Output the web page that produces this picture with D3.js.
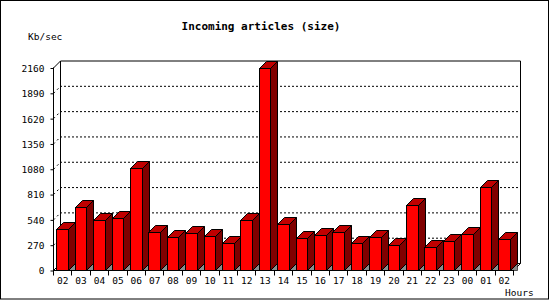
<!DOCTYPE html>
<html>
<head>
<meta charset="utf-8">
<script src="https://cdn.jsdelivr.net/npm/d3@7/dist/d3.min.js"></script>
<style>
  html, body { margin: 0; padding: 0; background: #fff; }
  svg { display: block; }
  text { font-family: "DejaVu Sans Mono", monospace; font-size: 9.5px; fill: #000; }
  .title { font-weight: bold; font-size: 11px; }
</style>
</head>
<body>
<svg id="chart" width="550" height="300"></svg>
<script>
const title = "Incoming articles (size)";
const yTitle = "Kb/sec";
const xTitle = "Hours";
const hours = ["02","03","04","05","06","07","08","09","10","11","12","13","14","15","16","17","18","19","20","21","22","23","00","01","02"];
const values = [435,670,534,552,1086,403,349,392,360,285,531,2155,488,338,371,403,285,349,264,691,242,306,381,883,328];
const yTicks = [0,270,540,810,1080,1350,1620,1890,2160];

const svg = d3.select("#chart");
const W = 550, H = 300;
const x0 = 53, x1 = 513, yBase = 270, yTop = 67.5;
const dx = 7, dy = 7;

svg.append("rect").attr("x",0.5).attr("y",0.5).attr("width",548).attr("height",298.5)
  .attr("fill","#fff").attr("stroke","#000");

const idx = hours.map((d,i)=>i);
const x = d3.scaleBand().domain(idx).range([x0,x1]).paddingInner(0).paddingOuter(0);
const y = d3.scaleLinear().domain([0,2160]).range([yBase,yTop]);

const g = svg.append("g");

// gridlines (back plane) and connecting diagonals
yTicks.forEach(v=>{
  const yy = y(v);
  if (v>0 && v<2160) {
    g.append("line").attr("x1",x0+dx).attr("x2",x1+dx).attr("y1",yy-dy+0.5).attr("y2",yy-dy+0.5)
      .attr("stroke","#000").attr("stroke-dasharray","2,2");
    g.append("line").attr("x1",x0+0.5).attr("y1",yy+0.5).attr("x2",x0+dx+0.5).attr("y2",yy-dy+0.5)
      .attr("stroke","#000").attr("stroke-dasharray","2,3");
  }
});
// frame
const fr = [
  [x0+dx, y(2160)-dy, x1+dx, y(2160)-dy],
  [x0+dx, y(2160)-dy, x0+dx, yBase-dy],
  [x1+dx, y(2160)-dy, x1+dx, yBase-dy],
  [x0+dx, yBase-dy, x1+dx, yBase-dy],
  [x0, y(2160), x0+dx, y(2160)-dy],
  [x1, yBase, x1+dx, yBase-dy],
  [x0, yBase, x0+dx, yBase-dy]
];
fr.forEach(l=>g.append("line").attr("x1",l[0]+0.5).attr("y1",l[1]+0.5).attr("x2",l[2]+0.5).attr("y2",l[3]+0.5).attr("stroke","#000"));

// bars
const bw = 11.5;
const bars = g.append("g");
values.forEach((v,i)=>{
  const cx = x(i) + x.bandwidth()/2;
  const xl = Math.round(cx - bw/2), xr = Math.round(cx + bw/2);
  const yt = Math.round(y(v)), yb = yBase;
  // floor shadow
  bars.append("path").attr("d",`M${xr+0.5},${yb+0.5}L${xr+dx+0.5},${yb-dy+0.5}L${xr+dx+0.5},${yb+0.5}Z`)
    .attr("fill","#8c8c8c").attr("stroke","#000").attr("stroke-width",0.6);
  // side
  bars.append("path").attr("d",`M${xr+0.5},${yt+0.5}L${xr+dx+0.5},${yt-dy+0.5}L${xr+dx+0.5},${yb-dy+0.5}L${xr+0.5},${yb+0.5}Z`)
    .attr("fill","#800000").attr("stroke","#000");
  // top
  bars.append("path").attr("d",`M${xl+0.5},${yt+0.5}L${xl+dx+0.5},${yt-dy+0.5}L${xr+dx+0.5},${yt-dy+0.5}L${xr+0.5},${yt+0.5}Z`)
    .attr("fill","#c00000").attr("stroke","#000");
  // front
  bars.append("rect").attr("x",xl+0.5).attr("y",yt+0.5).attr("width",xr-xl).attr("height",yb-yt)
    .attr("fill","#ff0000").attr("stroke","#000");
});

// front axes
g.append("line").attr("x1",x0+0.5).attr("x2",x0+0.5).attr("y1",y(2160)).attr("y2",yBase+5).attr("stroke","#000");
g.append("line").attr("x1",x0).attr("x2",x1+1).attr("y1",yBase+0.5).attr("y2",yBase+0.5).attr("stroke","#000");

// y axis ticks & labels
const yAxis = d3.axisLeft(y).tickValues(yTicks).tickSize(3).tickPadding(6).tickFormat(d3.format("d"));
const ya = svg.append("g").attr("transform",`translate(${x0+0.5},0.5)`).call(yAxis);
ya.select(".domain").remove();
ya.selectAll("text").attr("font-family","DejaVu Sans Mono").attr("font-size","9.5px").attr("dy","0.36em");

// x axis ticks & labels
const xa = svg.append("g").attr("transform",`translate(0,${yBase+0.5})`);
d3.range(hours.length+1).forEach(i=>{
  const xx = Math.round(x0 + i*x.bandwidth())+0.5;
  xa.append("line").attr("x1",xx).attr("x2",xx).attr("y1",0).attr("y2",5).attr("stroke","#000");
});
hours.forEach((h,i)=>{
  xa.append("text").attr("x",x(i)+x.bandwidth()/2+0.5).attr("y",13).attr("text-anchor","middle").text(h);
});

svg.append("text").attr("class","title").attr("x",261).attr("y",30).attr("text-anchor","middle").text(title);
svg.append("text").attr("x",28).attr("y",40).text(yTitle);
svg.append("text").attr("x",505).attr("y",296).text(xTitle);
</script>
</body>
</html>
